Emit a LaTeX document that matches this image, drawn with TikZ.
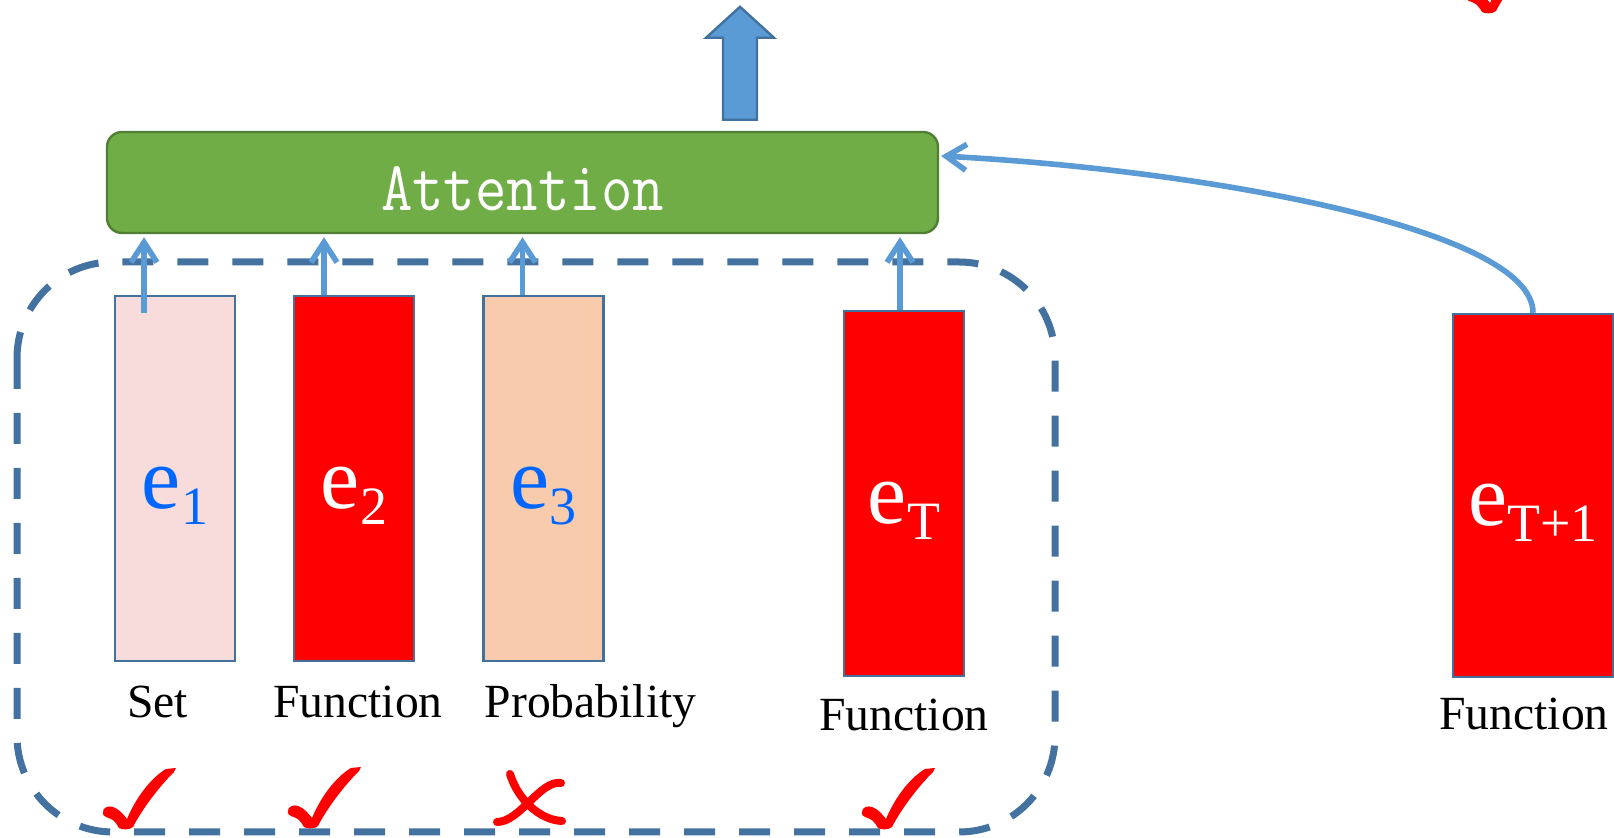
\documentclass[tikz,border=0pt]{standalone}
\usepackage{fontspec}
\setmainfont{Liberation Serif}
\usetikzlibrary{arrows.meta,positioning,calc}
\definecolor{attgreen}{RGB}{112,173,71}
\definecolor{attedge}{RGB}{80,126,50}
\definecolor{boxedge}{RGB}{65,113,156}
\definecolor{arrblue}{RGB}{91,155,213}
\definecolor{setpink}{RGB}{247,220,219}
\definecolor{probpeach}{RGB}{248,203,173}
\definecolor{lblblue}{RGB}{0,102,255}
\definecolor{grpblue}{RGB}{68,114,160}
\newcommand{\embname}[1]{\raisebox{-15pt}[0pt][0pt]{{\fontsize{44}{44}\selectfont e}\raisebox{-8pt}{\fontsize{27}{27}\selectfont #1}}}

\begin{document}
\begin{tikzpicture}[x=0.5pt,y=-0.5pt,
  attn/.style={rectangle, rounded corners=7.5pt, draw=attedge, line width=1.2pt, fill=attgreen,
               minimum width=415.5pt, minimum height=50.5pt, inner sep=0pt, text=white,
               font=\fontsize{30.5}{30}\selectfont\ttfamily},
  emb/.style={rectangle, draw=boxedge, line width=1.2pt, minimum width=60pt,
              minimum height=182.5pt, inner sep=0pt},
  lbl/.style={anchor=base, inner sep=0pt, font=\fontsize{23.8}{24}\selectfont},
  arr/.style={-{Straight Barb[length=10pt,width=13pt]}, line width=2.8pt, arrblue},
  outarr/.style={fill=arrblue, draw=boxedge, line width=1.2pt},
  grp/.style={draw=grpblue, line width=3.5pt, dash pattern=on 15.5pt off 12pt, rounded corners=48pt},
  chk/.pic={\fill[red] (-7,0) .. controls (-12,-8) .. (-20,-11)
              .. controls (-27,-14) and (-22,-24) .. (-13,-21)
              .. controls (-7,-19) and (-3,-14) .. (1,-9)
              .. controls (12,-35) and (28,-52) .. (40,-59) -- (50,-60) -- (48,-56)
              .. controls (30,-38) and (14,-15) .. (7,-1)
              .. controls (4,2) and (-4,2) .. (-7,0) -- cycle;},
  xmark/.pic={\draw[red, line width=4pt, line cap=round]
              (-20,-26) .. controls (-12,0) and (10,20) .. (32,21)
              (31,-17) .. controls (10,-20) and (-10,22) .. (-33,22);}
]
\useasboundingbox (0,0) rectangle (1614,838);

% group of previous elements
\draw[grp] (17,262) rectangle (1055,832);

\node[attn] (attn) at (522.5,182.5) {\raisebox{-14.25pt}[0pt][0pt]{\scalebox{1}[1.15]{Attention}}};

\node[emb, fill=setpink, text=lblblue] (e1) at (175,478.5) {\embname{1}};
\node[emb, fill=red, text=white] (e2) at (354,478.5) {\embname{2}};
\node[emb, fill=probpeach, text=lblblue] (e3) at (543.5,478.5) {\embname{3}};
\node[emb, fill=red, text=white] (eT) at (904,493.5) {\embname{T}};
\node[emb, fill=red, text=white, minimum width=80pt, minimum height=181.5pt] (eTT) at (1533,495.5) {\embname{T+1}};

\node[lbl] (l1) at (157.5,718) {Set};
\node[lbl] (l2) at (358,718) {Function};
\node[lbl] (l3) at (590.5,718) {Probability};
\node[lbl] (lT) at (904,731) {Function};
\node[lbl] (lTT) at (1524,730) {Function};

\draw[arr] ([xshift=-15.5pt,yshift=-9pt]e1.north) -- ([xshift=-189.25pt,yshift=-1.5pt]attn.south);
\draw[arr] ([xshift=-15pt]e2.north) -- ([xshift=-99.25pt,yshift=-1.5pt]attn.south);
\draw[arr] ([xshift=-10.5pt]e3.north) -- ([yshift=-1.5pt]attn.south);
\draw[arr] ([xshift=-2pt]eT.north) -- ([xshift=188.75pt,yshift=-1.5pt]attn.south);
\draw[arr] (eTT.north) .. controls +(0,-84) and +(262,14) .. ([xshift=1pt,yshift=13.25pt]attn.east);

% output arrow
\coordinate (ob) at ([xshift=108.75pt,yshift=5.5pt]attn.north);
\draw[outarr, shift={(ob)}] (-17,0) -- (-17,-82) -- (-34,-82) -- (0,-113) -- (34,-82) -- (17,-82) -- (17,0) -- cycle;

% marks
\pic at (126,828) {chk};
\pic at (311,827) {chk};
\pic at (530,800) {xmark};
\pic at (885,828) {chk};
\pic at (1489,12) {chk};
\end{tikzpicture}
\end{document}
